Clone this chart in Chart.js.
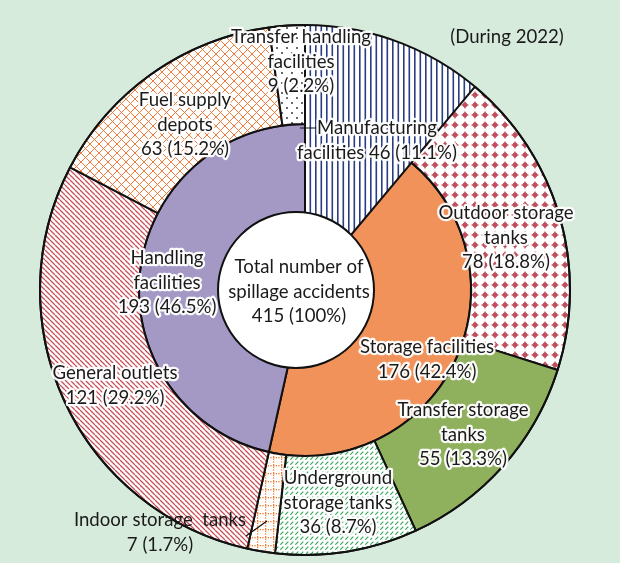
<!DOCTYPE html>
<html>
<head>
<meta charset="utf-8">
<script src="https://cdn.jsdelivr.net/npm/chart.js@4.4.1/dist/chart.umd.min.js"></script>
<style>
  html, body { margin: 0; padding: 0; background: #d7ebdc; }
  #wrap { width: 620px; height: 563px; }
</style>
</head>
<body>
<div id="wrap"><canvas id="c" width="620" height="563"></canvas></div>
<script>
// inner ring: facility groups
const innerNames = ["Manufacturing facilities", "Storage facilities", "Handling facilities"];
const innerValues = [46, 176, 193];

// outer ring: facility types
const outerNames = [
  "Manufacturing facilities", "Outdoor storage tanks", "Transfer storage tanks",
  "Underground storage tanks", "Indoor storage tanks", "General outlets",
  "Fuel supply depots", "Transfer handling facilities",
];
const outerValues = [46, 78, 55, 36, 7, 121, 63, 9];

const total = innerValues.reduce((a, b) => a + b, 0);
const pct = (v) => (v / total * 100).toFixed(1) + "%";

const ctx = document.getElementById("c").getContext("2d");

function makePattern(w, h, draw) {
  const c = document.createElement("canvas");
  c.width = w; c.height = h;
  const g = c.getContext("2d");
  g.fillStyle = "#fff";
  g.fillRect(0, 0, w, h);
  draw(g);
  return ctx.createPattern(c, "repeat");
}

const fills = {
  manufacturing: makePattern(11, 4, (g) => {
    g.fillStyle = "#2c3c82";
    g.fillRect(1.5, 0, 1.6, 4);
    g.fillRect(7, 0, 1.6, 4);
  }),
  outdoor: makePattern(10, 10, (g) => {
    g.fillStyle = "#c04f5d";
    g.beginPath();
    g.moveTo(5, 0.8); g.lineTo(6.2, 3.8); g.lineTo(9.2, 5); g.lineTo(6.2, 6.2);
    g.lineTo(5, 9.2); g.lineTo(3.8, 6.2); g.lineTo(0.8, 5); g.lineTo(3.8, 3.8);
    g.closePath(); g.fill();
    g.beginPath(); g.arc(5, 5, 2.4, 0, Math.PI * 2); g.fill();
  }),
  transferStorage: "#8fb05d",
  underground: makePattern(5, 5, (g) => {
    g.strokeStyle = "#2fa656"; g.lineWidth = 1.1;
    g.beginPath(); g.moveTo(0.3, 4.7); g.lineTo(3.3, 1.7); g.stroke();
  }),
  indoor: makePattern(8, 8, (g) => {
    g.fillStyle = "#f07a30";
    [0, 2.7, 5.3].forEach((p) => { g.fillRect(1, p, 1.3, 1.3); g.fillRect(p + 1, 1, 1.3, 1.3); });
  }),
  general: makePattern(5, 5, (g) => {
    g.strokeStyle = "#c8505a"; g.lineWidth = 1.3;
    g.beginPath();
    for (let k = -1; k <= 1; k++) { g.moveTo(k * 5, 0); g.lineTo(k * 5 + 5, 5); }
    g.stroke();
  }),
  fuel: makePattern(9, 9, (g) => {
    g.strokeStyle = "#f07b3b"; g.lineWidth = 1;
    g.beginPath();
    g.moveTo(0, 0); g.lineTo(9, 9); g.moveTo(9, 0); g.lineTo(0, 9);
    g.stroke();
  }),
  transferHandling: makePattern(10, 10, (g) => {
    g.fillStyle = "#222";
    g.beginPath(); g.arc(2, 3, 0.9, 0, Math.PI * 2); g.arc(7, 8, 0.9, 0, Math.PI * 2); g.fill();
  }),
  storage: "#f0925a",
  handling: "#a498c5",
};

const outerFills = [fills.manufacturing, fills.outdoor, fills.transferStorage, fills.underground,
  fills.indoor, fills.general, fills.fuel, fills.transferHandling];
const innerFills = [fills.manufacturing, fills.storage, fills.handling];

// label layout (centre of the first line of each text block)
const labelLayout = [
  { lines: ["Transfer handling", "facilities", `${outerValues[7]} (${pct(outerValues[7])})`], x: 301, y: 37 },
  { lines: ["Manufacturing", `facilities ${innerValues[0]} (${pct(innerValues[0])})`], x: 377, y: 128 },
  { lines: ["Outdoor storage", "tanks", `${outerValues[1]} (${pct(outerValues[1])})`], x: 506, y: 213 },
  { lines: ["Storage facilities", `${innerValues[1]} (${pct(innerValues[1])})`], x: 427, y: 347 },
  { lines: ["Transfer storage", "tanks", `${outerValues[2]} (${pct(outerValues[2])})`], x: 463, y: 410 },
  { lines: ["Underground", "storage tanks", `${outerValues[3]} (${pct(outerValues[3])})`], x: 338, y: 478 },
  { lines: ["Indoor storage  tanks", `${outerValues[4]} (${pct(outerValues[4])})`], x: 160, y: 520, halo: false },
  { lines: ["General outlets", `${outerValues[5]} (${pct(outerValues[5])})`], x: 115, y: 373 },
  { lines: ["Fuel supply", "depots", `${outerValues[6]} (${pct(outerValues[6])})`], x: 185, y: 100 },
  { lines: ["Handling", "facilities", `${innerValues[2]} (${pct(innerValues[2])})`], x: 167, y: 258 },
  { lines: ["Total number of", "spillage accidents", `${total} (100%)`], x: 299, y: 267, halo: false },
];

const ringDecor = {
  id: "ringDecor",
  afterDatasetsDraw(chart) {
    const arc = chart.getDatasetMeta(0).data[0];
    const c = chart.ctx;
    c.save();
    c.strokeStyle = "#111";
    c.lineWidth = 2;
    c.beginPath(); c.arc(arc.x, arc.y, arc.outerRadius, 0, Math.PI * 2); c.stroke();
    // centre disc (sits slightly left of the ring centre, as in the source)
    c.fillStyle = "#fff";
    c.beginPath(); c.arc(arc.x - 9, arc.y, 78, 0, Math.PI * 2); c.fill(); c.stroke();
    // leader lines
    c.lineWidth = 1.2;
    c.beginPath();
    c.moveTo(300, 128); c.lineTo(317, 128);
    c.moveTo(246, 536); c.lineTo(267, 521);
    c.stroke();
    c.restore();
  },
};

const labelPlugin = {
  id: "labels",
  afterDraw(chart) {
    const c = chart.ctx;
    c.save();
    c.font = "18.6px Lato";
    c.textAlign = "center";
    c.textBaseline = "middle";
    c.lineJoin = "round";
    labelLayout.forEach((l) => {
      l.lines.forEach((t, i) => {
        const y = l.y + i * 24.5;
        if (l.halo !== false) {
          c.strokeStyle = "rgba(255,255,255,0.95)";
          c.lineWidth = 4.5;
          c.strokeText(t, l.x, y);
        }
        c.fillStyle = "#1a1a1a";
        c.fillText(t, l.x, y);
      });
    });
    c.fillText("(During 2022)", 507, 37);
    c.restore();
  },
};

new Chart(ctx, {
  type: "doughnut",
  data: {
    labels: outerNames,
    datasets: [
      {
        data: outerValues,
        backgroundColor: outerFills,
        borderColor: "#111",
        borderWidth: outerValues.map((_, i) => (i === 0 ? 0 : 2)),
        hoverBorderWidth: 2,
        weight: 99,
      },
      {
        data: innerValues,
        backgroundColor: innerFills,
        borderColor: "#111",
        borderWidth: innerValues.map((_, i) => (i === 0 ? 0 : 2)),
        hoverBorderWidth: 2,
        weight: 98,
      },
    ],
  },
  options: {
    responsive: false,
    animation: false,
    cutout: "25.7%",
    layout: { padding: { left: 39, right: 49, top: 24, bottom: 7 } },
    plugins: { legend: { display: false }, tooltip: { enabled: false } },
  },
  plugins: [ringDecor, labelPlugin],
});
</script>
</body>
</html>
